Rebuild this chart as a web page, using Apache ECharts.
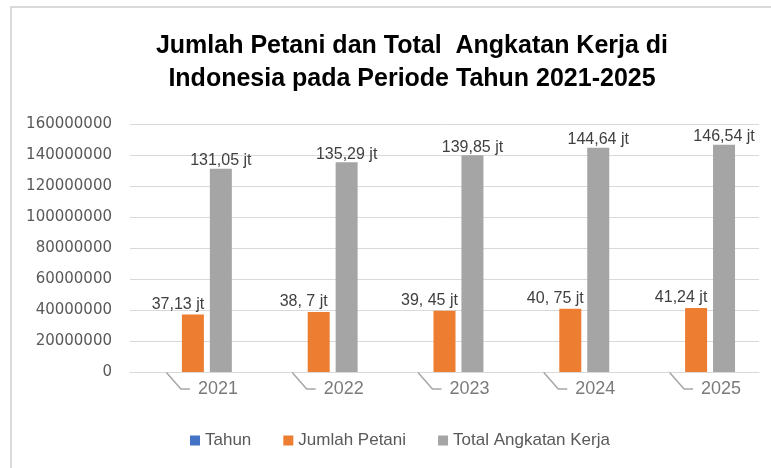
<!DOCTYPE html>
<html>
<head>
<meta charset="utf-8">
<script src="https://cdn.jsdelivr.net/npm/echarts@6/dist/echarts.min.js"></script>
<style>
	html, body { margin: 0; padding: 0; background: #fff; overflow: hidden; }
	.frame { position: absolute; left: 10px; top: 6px; width: 2000px; height: 2000px; border-left: 2px solid #D9D9D9; border-top: 2px solid #D9D9D9; }
	#main { position: absolute; left: 0; top: 0; width: 771px; height: 468px; }
</style>
</head>
<body>
<div class="frame"></div>
<div id="main"></div>
<script>
	// data
	var categories = ['2021', '2022', '2023', '2024', '2025'];
	var tahun = [2021, 2022, 2023, 2024, 2025];
	var jumlahPetani = [37130000, 38700000, 39450000, 40750000, 41240000];
	var totalAngkatan = [131050000, 135290000, 139850000, 144640000, 146540000];
	var petaniLabels = ['37,13 jt', '38, 7 jt', '39, 45 jt', '40, 75 jt', '41,24 jt'];
	var totalLabels = ['131,05 jt', '135,29 jt', '139,85 jt', '144,64 jt', '146,54 jt'];
	var yTicks = [0, 20000000, 40000000, 60000000, 80000000, 100000000, 120000000, 140000000, 160000000];

	var myChart = echarts.init(document.getElementById('main'), null, { renderer: 'canvas' });

	var option = {
		animation: false,
		color: ['#4472C4', '#ED7D31', '#A5A5A5'],
		title: {
			text: 'Jumlah Petani dan Total  Angkatan Kerja di\nIndonesia pada Periode Tahun 2021-2025',
			left: 412,
			textAlign: 'center',
			top: 30,
			padding: 0,
			textStyle: {
				fontFamily: 'Liberation Sans',
				fontSize: 25,
				fontWeight: 'bold',
				color: '#000',
				lineHeight: 33
			}
		},
		legend: {
			data: ['Tahun', 'Jumlah Petani', 'Total Angkatan Kerja'],
			left: 185,
			top: 427,
			icon: 'rect',
			itemWidth: 10,
			itemHeight: 10,
			itemGap: 32,
			textStyle: { fontFamily: 'Liberation Sans', fontSize: 17, color: '#595959' }
		},
		grid: { left: 130, right: 12, top: 124, bottom: 96 },
		xAxis: {
			type: 'category',
			data: categories,
			axisLine: { show: true, lineStyle: { color: '#D9D9D9', width: 1 } },
			axisTick: { show: false },
			axisLabel: { show: false }
		},
		yAxis: {
			type: 'value',
			min: yTicks[0],
			max: yTicks[yTicks.length - 1],
			interval: yTicks[1] - yTicks[0],
			axisLine: { show: false },
			axisTick: { show: false },
			axisLabel: {
				margin: 18,
				fontFamily: 'DejaVu Sans',
				fontSize: 15,
				color: '#595959',
				formatter: function (v) { return String(v); }
			},
			splitLine: { lineStyle: { color: '#D9D9D9', width: 1 } }
		},
		series: [
			{
				name: 'Tahun',
				type: 'bar',
				data: tahun,
				barWidth: 22,
				barGap: '27%'
			},
			{
				name: 'Jumlah Petani',
				type: 'bar',
				data: jumlahPetani,
				barWidth: 22,
				barGap: '27%',
				label: {
					show: true,
					position: 'top',
					distance: 2,
					offset: [-15, 0],
					fontFamily: 'Liberation Sans',
					fontSize: 16,
					color: '#404040',
					formatter: function (p) { return petaniLabels[p.dataIndex]; }
				}
			},
			{
				name: 'Total Angkatan Kerja',
				type: 'bar',
				data: totalAngkatan,
				barWidth: 22,
				barGap: '27%',
				label: {
					show: true,
					position: 'top',
					distance: 0,
					fontFamily: 'Liberation Sans',
					fontSize: 16,
					color: '#404040',
					formatter: function (p) { return totalLabels[p.dataIndex]; }
				}
			},
			{
				// label tahun dengan garis penunjuk (seperti label Excel yang digeser)
				name: 'labelTahun',
				type: 'scatter',
				data: tahun,
				symbol: 'rect',
				symbolSize: 1,
				symbolOffset: [-27, 0],
				itemStyle: { color: '#D9D9D9' },
				silent: true,
				label: {
					show: true,
					position: 'inside',
					padding: [0, 0, 0, 8],
					backgroundColor: 'transparent',
					fontFamily: 'Liberation Sans',
					fontSize: 18,
					color: '#595959',
					formatter: '{c}'
				},
				labelLayout: { dx: 48, dy: 17 },
				labelLine: {
					show: true,
					length2: 9,
					lineStyle: { color: '#A6A6A6', width: 1.5 }
				}
			}
		]
	};

	myChart.setOption(option);
</script>
</body>
</html>
